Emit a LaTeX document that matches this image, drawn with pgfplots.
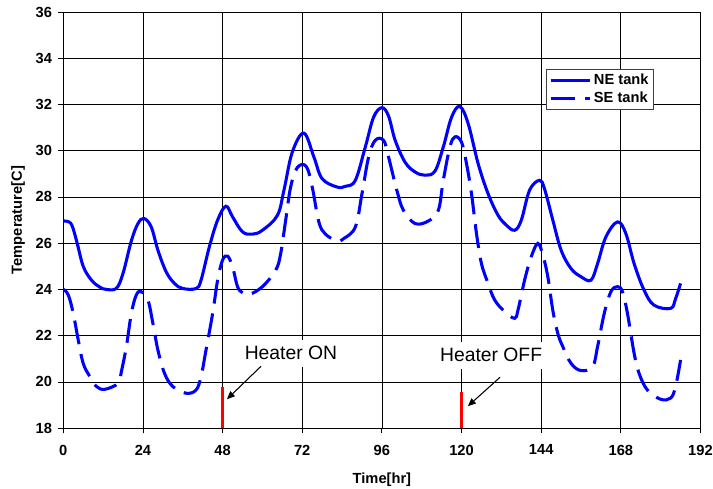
\documentclass[border=0pt]{standalone}
\usepackage{fontspec}
\setmainfont{Liberation Sans}
\usepackage{pgfplots}
\pgfplotsset{compat=1.18}
\usetikzlibrary{arrows.meta}

\begin{document}
\begin{tikzpicture}
\begin{axis}[
    scale only axis,
    width=478pt, height=312.2pt,
    xmin=0, xmax=192, ymin=18, ymax=36,
    xtick={0,24,...,192}, ytick={18,20,...,36},
    xtick pos=bottom, ytick pos=left,
    grid=major,
    major grid style={black, line width=0.5pt},
    tick align=outside, major tick length=4pt,
    tick style={black, line width=0.6pt},
    axis line style={line width=0.6pt},
    /pgf/number format/assume math mode=true,
    ticklabel style={font=\fontsize{11}{13}\selectfont\bfseries},
    xticklabel style={yshift=-5pt},
    yticklabel style={xshift=-1pt},
    xlabel={Time[hr]}, ylabel={Temperature[C]},
    label style={font=\fontsize{11}{13}\selectfont\bfseries},
    xlabel style={at={(axis description cs:0.5,-0.125)}, anchor=center},
    ylabel style={at={(axis description cs:-0.071,0.5)}, anchor=center},
    legend style={at={(axis cs:145.6,33.54)}, anchor=north west,
        draw=black!75, line width=0.6pt,
        font=\fontsize{11}{13}\selectfont\bfseries,
        inner xsep=2pt, inner ysep=1.5pt, row sep=0pt},
    legend cell align=left,
    legend image code/.code={\draw[#1] plot coordinates {(0pt,0pt) (29pt,0pt)};},
]
\addplot[blue, line width=2.3pt, smooth, tension=0.6] coordinates {
(0,26.95) (1,26.95) (2.5,26.8) (4,26.1) (6,25.0) (8.5,24.4) (11,24.1) (13,24.0)
(16,24.05) (18,24.7) (20.5,26.1) (22.5,26.85) (24.3,27.07) (26.5,26.7) (28.5,25.7)
(31,24.76) (33.5,24.26) (36,24.04) (40,24.04) (41.5,24.4) (44,25.84) (46.5,27.0)
(49,27.6) (51,27.14) (54,26.49) (57,26.39) (60,26.56) (64.5,27.2) (66.5,28.3)
(69,29.94) (72.5,30.76) (75.5,29.73) (78,28.79) (82.5,28.43) (85,28.46) (88,28.72)
(91,30.16) (93.5,31.45) (96,31.86) (98,31.5) (100,30.45) (103,29.5) (106,29.08)
(109,28.94) (112,29.12) (114.5,30.16) (117,31.45) (119.5,31.91) (122,31.17)
(125,29.44) (128,28.14) (131,27.21) (133.5,26.78) (136,26.56) (138,26.99)
(140.5,28.29) (143.5,28.72) (145,28.35) (147.5,27.0) (150,25.7) (153,24.9)
(156,24.55) (159,24.4) (161,25.12) (163.5,26.27) (167,26.92) (169.5,26.42)
(172,25.12) (175,23.97) (178,23.32) (183,23.18) (184.5,23.6) (186,24.26)
};
\addlegendentry{NE tank}
\addplot[blue, line width=2.3pt, smooth, tension=0.6, dash pattern=on 18pt off 7.5pt] coordinates {
(0,24.0) (1.5,23.76) (3,22.96) (4.5,21.81) (6,20.8) (8,20.23) (10,19.8) (12.5,19.68)
(16.5,19.94) (17.5,20.45) (19,21.53) (20.5,22.96) (22,23.76) (23.5,23.9) (25.5,23.54)
(27,22.53) (28.5,21.38) (30.5,20.37) (33,19.8) (37,19.51) (40,19.65) (41.5,20.23)
(43,21.38) (45,22.96) (46.5,24.4) (48,25.27) (49.5,25.44) (51,24.98) (52.5,24.12)
(54,23.86) (56,23.78) (60,24.12) (64,24.83) (65.5,25.55) (67,26.99) (68.5,28.43)
(70.5,29.27) (73.2,29.32) (75,28.43) (77,26.92) (79,26.39) (82.5,26.1) (84.5,26.2)
(88,26.7) (90,28.14) (92,29.73) (94,30.45) (96.5,30.45) (98,29.73) (100.5,28.29)
(102.5,27.42) (106,26.85) (110,26.96) (113,27.42) (114.5,28.72) (116.5,30.16)
(118,30.6) (120,30.37) (121.5,29.44) (123,28.14) (124.5,26.42) (126,25.12)
(128,24.26) (130,23.54) (133,23.04) (136,22.75) (137,23.1) (139,24.4) (141,25.41)
(143,25.99) (144.5,25.48) (146,24.55) (147.5,23.1) (149,22.1) (150.5,21.53)
(153,20.8) (156,20.49) (159.5,20.66) (161,21.53) (163,22.96) (165,23.9) (167,24.12)
(168.5,23.9) (170,22.96) (172,21.24) (173.5,20.37) (176,19.65) (180,19.25)
(183,19.3) (184.5,19.8) (186,20.95)
};
\addlegendentry{SE tank}
% heater switch markers
\addplot[red, line width=2.2pt, forget plot] coordinates {(48,18) (48,19.77)};
\addplot[red, line width=2.2pt, forget plot] coordinates {(120,18) (120,19.55)};
\node[fill=white, inner xsep=6pt, inner ysep=5pt, font=\fontsize{14.5}{16}\selectfont]
    at (axis cs:68.6,21.25) {Heater ON};
\node[fill=white, inner xsep=6pt, inner ysep=5pt, font=\fontsize{14.5}{16}\selectfont]
    at (axis cs:128.9,21.15) {Heater OFF};
\draw[-{Triangle[length=6pt,width=5pt]}, line width=0.8pt]
    (axis cs:59.6,20.68) -- (axis cs:49.3,19.25);
\draw[-{Triangle[length=6pt,width=5pt]}, line width=0.8pt]
    (axis cs:131.6,20.2) -- (axis cs:121.9,18.95);
\end{axis}
\pgfresetboundingbox
\path ([shift={(-47.5pt,-45.5pt)}]current axis.south west)
    rectangle ([shift={(9.4pt,9pt)}]current axis.north east);
\end{tikzpicture}
\end{document}
